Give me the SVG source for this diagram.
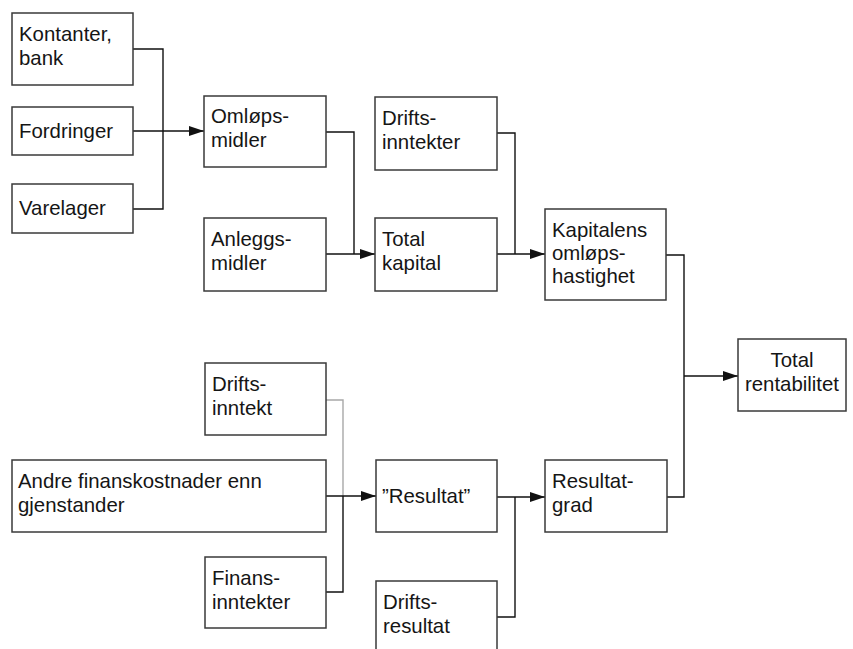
<svg xmlns="http://www.w3.org/2000/svg" width="853" height="649" viewBox="0 0 853 649">
<style>
  .box { fill: #ffffff; stroke: #3a3a3a; stroke-width: 1.5; }
  .t { font-family: "Liberation Sans", Arial, sans-serif; font-size: 20.4px; fill: #151515; }
  .c { text-anchor: middle; }
  .ln { fill: none; stroke: #111111; stroke-width: 1.4; }
  .gray { fill: none; stroke: #a8a8a8; stroke-width: 1.4; }
</style>
<defs>
  <marker id="arr" viewBox="0 0 15 10" refX="15" refY="5" markerWidth="15" markerHeight="10" markerUnits="userSpaceOnUse" orient="auto">
    <path d="M0,0 L15,5 L0,10 Z" fill="#111111"/>
  </marker>
</defs>
<rect width="853" height="649" fill="#ffffff"/>

<g id="connectors">
  <path class="ln" d="M133,49 H163 V209 H133"/>
  <path class="ln" d="M133,131 H204" marker-end="url(#arr)"/>
  <path class="ln" d="M326,132 H354 V254"/>
  <path class="ln" d="M326,254 H375" marker-end="url(#arr)"/>
  <path class="ln" d="M497,133 H515 V254"/>
  <path class="ln" d="M497,254 H545" marker-end="url(#arr)"/>
  <path class="ln" d="M666,255 H684 V497 H667"/>
  <path class="ln" d="M684,376 H738" marker-end="url(#arr)"/>
  <path class="gray" d="M326,400 H343 V496"/>
  <path class="ln" d="M343,496 V592 H326"/>
  <path class="ln" d="M326,496 H376" marker-end="url(#arr)"/>
  <path class="ln" d="M497,497 H545" marker-end="url(#arr)"/>
  <path class="ln" d="M497,617 H515 V497"/>
</g>

<g id="kontanter">
  <rect class="box" x="12" y="13" width="121" height="72"/>
  <text class="t" x="19" y="41">Kontanter,</text>
  <text class="t" x="19" y="65">bank</text>
</g>
<g id="fordringer">
  <rect class="box" x="12" y="107" width="121" height="48"/>
  <text class="t" x="19" y="138">Fordringer</text>
</g>
<g id="varelager">
  <rect class="box" x="12" y="184" width="121" height="49"/>
  <text class="t" x="19" y="215">Varelager</text>
</g>
<g id="omlopsmidler">
  <rect class="box" x="204" y="96" width="122" height="71"/>
  <text class="t" x="211" y="123">Omløps-</text>
  <text class="t" x="211" y="147">midler</text>
</g>
<g id="anleggsmidler">
  <rect class="box" x="204" y="218" width="122" height="73"/>
  <text class="t" x="211" y="246">Anleggs-</text>
  <text class="t" x="211" y="270">midler</text>
</g>
<g id="driftsinntekter">
  <rect class="box" x="375" y="97" width="122" height="73"/>
  <text class="t" x="382" y="125">Drifts-</text>
  <text class="t" x="382" y="149">inntekter</text>
</g>
<g id="totalkapital">
  <rect class="box" x="375" y="218" width="122" height="73"/>
  <text class="t" x="382" y="246">Total</text>
  <text class="t" x="382" y="270">kapital</text>
</g>
<g id="kapitalens">
  <rect class="box" x="545" y="209" width="121" height="91"/>
  <text class="t" x="552" y="237">Kapitalens</text>
  <text class="t" x="552" y="260">omløps-</text>
  <text class="t" x="552" y="283">hastighet</text>
</g>
<g id="totalrentabilitet">
  <rect class="box" x="738" y="339" width="108" height="72"/>
  <text class="t c" x="792" y="367">Total</text>
  <text class="t c" x="792" y="391">rentabilitet</text>
</g>
<g id="driftsinntekt">
  <rect class="box" x="205" y="363" width="121" height="72"/>
  <text class="t" x="212" y="391">Drifts-</text>
  <text class="t" x="212" y="415">inntekt</text>
</g>
<g id="andre">
  <rect class="box" x="12" y="460" width="314" height="72"/>
  <text class="t" x="18" y="488">Andre finanskostnader enn</text>
  <text class="t" x="18" y="512">gjenstander</text>
</g>
<g id="finansinntekter">
  <rect class="box" x="205" y="557" width="121" height="71"/>
  <text class="t" x="212" y="585">Finans-</text>
  <text class="t" x="212" y="609">inntekter</text>
</g>
<g id="resultat">
  <rect class="box" x="376" y="460" width="121" height="72"/>
  <text class="t" x="382" y="503">”Resultat”</text>
</g>
<g id="resultatgrad">
  <rect class="box" x="545" y="460" width="122" height="72"/>
  <text class="t" x="552" y="488">Resultat-</text>
  <text class="t" x="552" y="512">grad</text>
</g>
<g id="driftsresultat">
  <rect class="box" x="376" y="581" width="121" height="72"/>
  <text class="t" x="383" y="609">Drifts-</text>
  <text class="t" x="383" y="633">resultat</text>
</g>
</svg>
